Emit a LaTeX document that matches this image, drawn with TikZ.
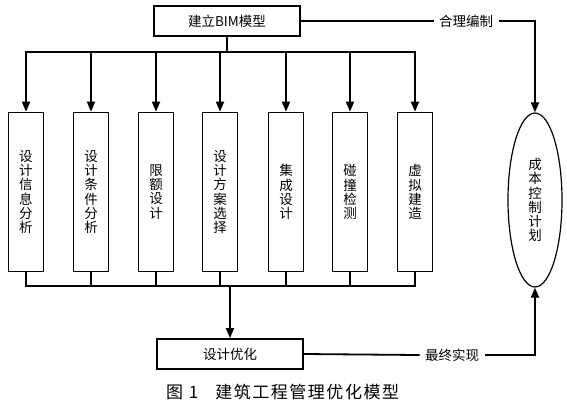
\documentclass[tikz,border=0pt]{standalone}
\usepackage{fontspec}
\newfontfamily\cjk{Noto Sans CJK SC}
\usetikzlibrary{arrows.meta,shapes.geometric}
\begin{document}
\begin{tikzpicture}[x=1pt,y=-1pt,
  line/.style={line width=1.8pt,line cap=rect},
  thinline/.style={line width=1.2pt},
  arr/.style={line width=1.8pt,-{Triangle[length=10pt,width=8pt]}},
  hbox/.style={draw,line width=1.8pt,minimum width=146pt,minimum height=30pt,inner sep=0pt,font=\cjk\fontsize{13.5}{14}\selectfont},
  vbox/.style={draw,line width=1.6pt,minimum width=35pt,minimum height=159pt,inner sep=0pt,align=center,font=\cjk\fontsize{13.5}{14.2}\selectfont},
  lbl/.style={inner sep=6pt,font=\cjk\fontsize{13.5}{14}\selectfont},
  planshape/.style={draw,ellipse,line width=1.2pt,minimum width=54pt,minimum height=174pt,inner sep=0pt,align=center,font=\cjk\fontsize{13.5}{14.2}\selectfont}]
\useasboundingbox[fill=white] (0,0) rectangle (567,402);

\node[hbox] (bim) at (227,21) {建立BIM模型};
\node[lbl] (hl) at (466,21) {合理编制};
\node[planshape] (plan) at (535,200) {成\\本\\控\\制\\计\\划};

\node[vbox] (b1) at (26,192) {设\\计\\信\\息\\分\\析};
\node[vbox] (b2) at (91,192) {设\\计\\条\\件\\分\\析};
\node[vbox] (b3) at (156,192) {限\\额\\设\\计};
\node[vbox] (b4) at (220,192) {设\\计\\方\\案\\选\\择};
\node[vbox] (b5) at (286,192) {集\\成\\设\\计};
\node[vbox] (b6) at (350,192) {碰\\撞\\检\\测};
\node[vbox] (b7) at (415,192) {虚\\拟\\建\\造};

\node[hbox] (opt) at (230,354) {设计优化};
\node[lbl] (fl) at (452,355) {最终实现};

\coordinate (busT) at (227,52);
\coordinate (busB) at (230,286);

% top distribution
\draw[line] (bim.south) -- (busT);
\draw[line] (b1.north |- busT) -- (b7.north |- busT);
\draw[arr] (b1.north |- busT) -- (b1.north);
\draw[arr] (b2.north |- busT) -- (b2.north);
\draw[arr] (b3.north |- busT) -- (b3.north);
\draw[arr] (b4.north |- busT) -- (b4.north);
\draw[arr] (b5.north |- busT) -- (b5.north);
\draw[arr] (b6.north |- busT) -- (b6.north);
\draw[arr] (b7.north |- busT) -- (b7.north);

% bottom collection
\foreach \i in {1,...,7} {
  \draw[thinline] (b\i.south) -- (b\i.south |- busB);
}
\draw[line] (b1.south |- busB) -- (b7.south |- busB);
\draw[arr] (busB) -- (opt.north);

% to the plan
\draw[line] (bim.east) -- (hl.west);
\draw[arr] (hl.east) -| (plan.north);
\draw[line] (opt.east) -- (fl.west);
\draw[arr] (fl.east) -| (plan.south);

% caption
\node[anchor=west,inner sep=0pt,font=\cjk\fontsize{17}{18}\selectfont] (cap) at (166,392) {图\,\,1\quad\addfontfeatures{LetterSpace=9}建筑工程管理优化模型};
\end{tikzpicture}
\end{document}
